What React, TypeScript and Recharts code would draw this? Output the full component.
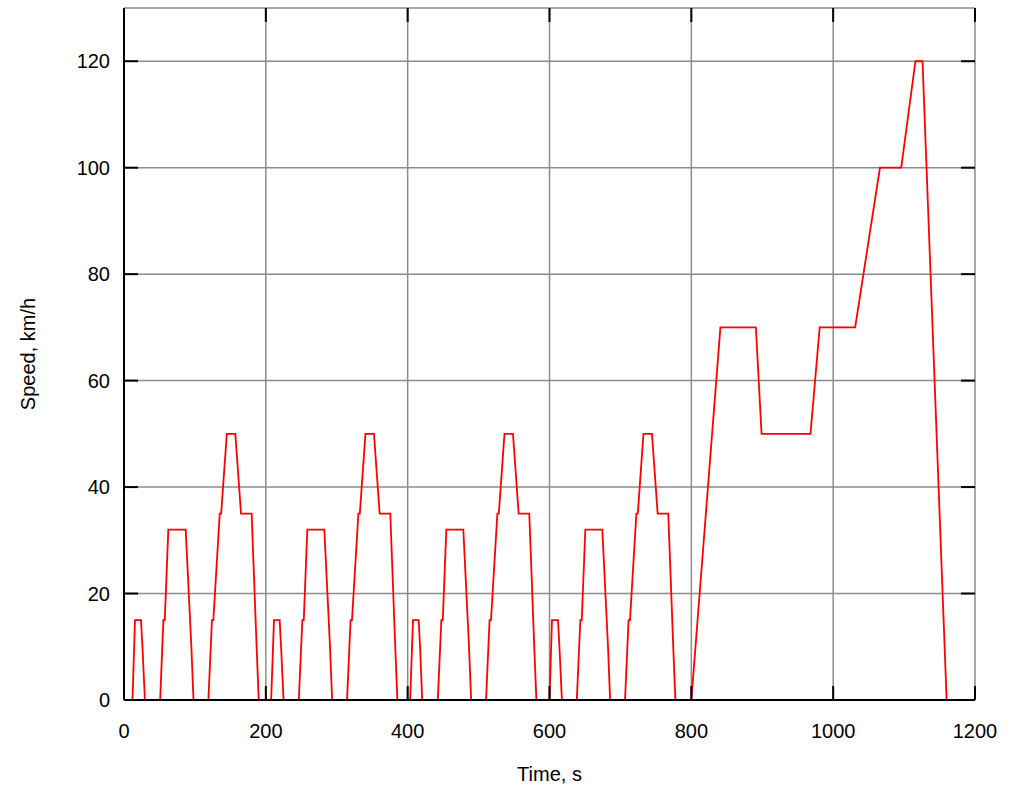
import React from 'react';
import { LineChart, Line, XAxis, YAxis, CartesianGrid, Label } from 'recharts';

// NEDC driving cycle: four ECE-15 urban cycles + one EUDC cycle
const ece1Time = [0, 12, 15.5, 24, 26, 29.5, 51, 55.5, 57.5, 62.5, 87, 95, 98, 119, 124, 126, 135, 137, 145, 157, 165, 180, 187, 190];
const ece2Time = [207.5, 211.5, 219.5, 221.5, 225, 246.5, 251.5, 253.5, 258.5, 282.5, 290.5, 293.5, 314.5, 319.5, 321.5, 330.5, 332.5, 340.5, 352.5, 360.5, 375.5, 382.5, 385.5];
const ece3Time = [403.5, 407.5, 415.5, 417.5, 420.5, 442.5, 447.5, 449.5, 454.5, 478.5, 486.5, 489.5, 510.5, 515.5, 517.5, 526.5, 528.5, 536.5, 548.5, 556.5, 571.5, 578.5, 581.5];
const ece4Time = [600, 603.5, 612, 614, 617.5, 638.5, 643.5, 645.5, 650.5, 674.5, 682.5, 685.5, 706.5, 711.5, 713.5, 722.5, 724.5, 732.5, 744.5, 752.5, 767.5, 774.5, 777.5];
const ece1Speed = [0, 0, 15, 15, 10, 0, 0, 15, 15, 32, 32, 10, 0, 0, 15, 15, 35, 35, 50, 50, 35, 35, 10, 0];
const eceSpeed = [0, 15, 15, 10, 0, 0, 15, 15, 32, 32, 10, 0, 0, 15, 15, 35, 35, 50, 50, 35, 35, 10, 0];
const eudcTime = [800, 841, 891, 899, 968, 981, 1031, 1066, 1096, 1116, 1126, 1160, 1180];
const eudcSpeed = [0, 70, 70, 50, 50, 70, 70, 100, 100, 120, 120, 0, 0];

const xTicks = [0, 200, 400, 600, 800, 1000, 1200];
const yTicks = [0, 20, 40, 60, 80, 100, 120];

const segments: [number[], number[]][] = [
  [ece1Time, ece1Speed],
  [ece2Time, eceSpeed],
  [ece3Time, eceSpeed],
  [ece4Time, eceSpeed],
  [eudcTime, eudcSpeed],
];

const data: { t: number; v: number }[] = [];
segments.forEach(([ts, vs]) => {
  ts.forEach((t, i) => data.push({ t, v: vs[i] }));
});

const W = 1023;
const H = 787;
const MARGIN = { top: 8, right: 48, bottom: 0, left: 0 };
const X_AXIS_H = 87;
const Y_AXIS_W = 124;
const PLOT_W = W - MARGIN.left - MARGIN.right - Y_AXIS_W;
const PLOT_H = H - MARGIN.top - MARGIN.bottom - X_AXIS_H;

const FONT = '"Liberation Sans", Arial, Helvetica, sans-serif';
const FS = 20;
const TICK_LEN = 14;

const BottomTick = (props: any) => {
  const { x, y, payload } = props;
  return (
    <g>
      <line x1={x} x2={x} y1={y} y2={y - TICK_LEN} stroke="#000" strokeWidth={2} />
      <line x1={x} x2={x} y1={y - PLOT_H} y2={y - PLOT_H + TICK_LEN} stroke="#000" strokeWidth={2} />
      <text x={x} y={y + 31} textAnchor="middle" dominantBaseline="central" fontSize={FS} fontFamily={FONT} fill="#000">
        {payload.value}
      </text>
    </g>
  );
};

const LeftTick = (props: any) => {
  const { x, y, payload } = props;
  return (
    <g>
      <line x1={x} x2={x + TICK_LEN} y1={y} y2={y} stroke="#000" strokeWidth={2} />
      <line x1={x + PLOT_W} x2={x + PLOT_W - TICK_LEN} y1={y} y2={y} stroke="#000" strokeWidth={2} />
      <text x={x - 14} y={y} textAnchor="end" dominantBaseline="central" fontSize={FS} fontFamily={FONT} fill="#000">
        {payload.value}
      </text>
    </g>
  );
};

export default function App() {
  return (
    <div style={{ position: 'absolute', left: 0, top: 0, width: W, height: H, background: '#fff', fontFamily: FONT }}>
      <LineChart width={W} height={H} data={data} margin={MARGIN}>
        <CartesianGrid stroke="#8c8c8c" strokeWidth={1.5} />
        <Line
          type="linear"
          dataKey="v"
          stroke="#ff0000"
          strokeWidth={1.8}
          dot={false}
          activeDot={false}
          isAnimationActive={false}
        />
        <XAxis
          xAxisId="top"
          orientation="top"
          type="number"
          domain={[0, 1200]}
          ticks={xTicks}
          height={0}
          tick={false}
          tickLine={false}
          axisLine={{ stroke: '#000', strokeWidth: 2 }}
        />
        <YAxis
          yAxisId="right"
          orientation="right"
          type="number"
          domain={[0, 130]}
          ticks={yTicks}
          width={0}
          tick={false}
          tickLine={false}
          axisLine={{ stroke: '#000', strokeWidth: 2 }}
        />
        <XAxis
          dataKey="t"
          type="number"
          domain={[0, 1200]}
          ticks={xTicks}
          height={X_AXIS_H}
          tickSize={0}
          tickMargin={0}
          tick={<BottomTick />}
          axisLine={{ stroke: '#000', strokeWidth: 2 }}
          tickLine={false}
        >
          <Label value="Time, s" position="insideBottom" offset={6} fontSize={FS} fontFamily={FONT} fill="#000" />
        </XAxis>
        <YAxis
          type="number"
          domain={[0, 130]}
          ticks={yTicks}
          width={Y_AXIS_W}
          tickSize={0}
          tickMargin={0}
          tick={<LeftTick />}
          axisLine={{ stroke: '#000', strokeWidth: 2 }}
          tickLine={false}
        >
          <Label
            value="Speed, km/h"
            angle={-90}
            position="insideLeft"
            offset={28}
            fontSize={FS}
            fontFamily={FONT}
            fill="#000"
            style={{ textAnchor: 'middle' }}
          />
        </YAxis>
      </LineChart>
    </div>
  );
}
